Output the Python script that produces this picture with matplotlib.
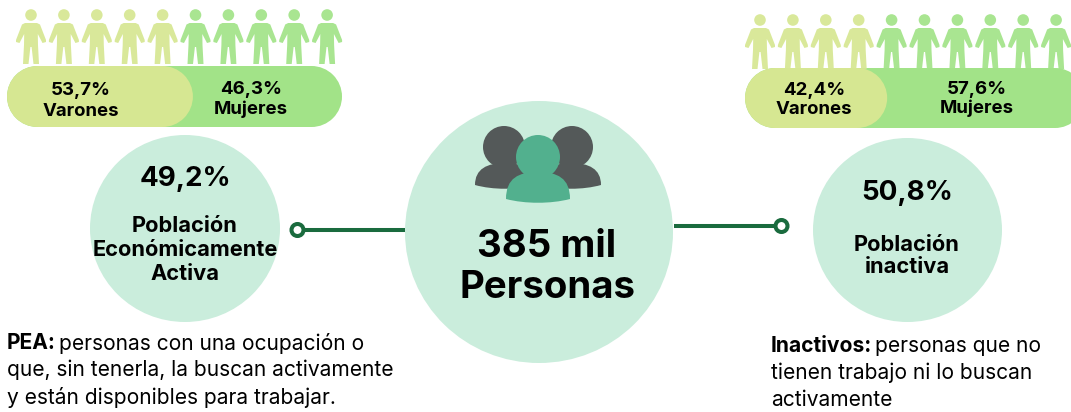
import numpy as np
import matplotlib
matplotlib.use('Agg')
import matplotlib.pyplot as plt
from matplotlib.patches import Circle, Ellipse, Rectangle, PathPatch, Polygon
from matplotlib.path import Path

plt.rcParams['font.family'] = ['Inter', 'DejaVu Sans']

# data
total_label = ['385 mil', 'Personas']
group_pct = [49.2, 50.8]
group_names = ['Población\nEconómicamente\nActiva', 'Población\ninactiva']
varones_pct = [53.7, 42.4]
mujeres_pct = [46.3, 57.6]
sex_names = ['Varones', 'Mujeres']

LIGHT = '#d6e792'
GREEN = '#a2e388'
MINT = '#caeddc'
DARK_LINE = '#1a6b3e'
TEAL = '#52b08e'
GREY = '#545959'


def pct(v):
    return f'{v:.1f}%'.replace('.', ',')


def person(ax, cx, top, color):
    ax.add_patch(Circle((cx, top + 6), 5.8, fc=color, ec='none', alpha=0.92, zorder=3))
    pts = np.array([(-6, 14), (6, 14), (9, 15.5), (15, 31), (15, 33), (11.5, 34), (6.8, 25), (7, 36),
                    (8, 55), (2.5, 55), (0.6, 38), (-0.6, 38), (-2.5, 55), (-8, 55), (-7, 36),
                    (-6.8, 25), (-11.5, 34), (-15, 33), (-15, 31), (-9, 15.5)], dtype=float)
    pts[:, 0] += cx
    pts[:, 1] += top
    ax.add_patch(Polygon(pts, closed=True, fc=color, ec='none', alpha=0.92, zorder=3))


def dome(ax, x0, x1, y_top, y_bot, color, zorder):
    w = x1 - x0
    verts = [(x0, y_bot - 4), (x0, y_top + 6), (x0 + 0.2 * w, y_top), (x0 + 0.5 * w, y_top),
             (x0 + 0.8 * w, y_top), (x1, y_top + 6), (x1, y_bot - 4),
             (x0 + 0.7 * w, y_bot + 1), (x0 + 0.3 * w, y_bot + 1), (x0, y_bot - 4), (x0, y_bot - 4)]
    codes = [Path.MOVETO, Path.CURVE4, Path.CURVE4, Path.CURVE4, Path.CURVE4, Path.CURVE4, Path.CURVE4,
             Path.CURVE4, Path.CURVE4, Path.CURVE4, Path.CLOSEPOLY]
    ax.add_patch(PathPatch(Path(verts, codes), fc=color, ec='none', zorder=zorder))


def pill(ax, x0, x1, y0, y1, color):
    r = (y1 - y0) / 2
    ax.add_patch(Rectangle((x0 + r, y0), x1 - x0 - 2 * r, y1 - y0, fc=color, ec='none', zorder=2))
    ax.add_patch(Circle((x0 + r, y0 + r), r, fc=color, ec='none', zorder=2))
    ax.add_patch(Circle((x1 - r, y0 + r), r, fc=color, ec='none', zorder=2))


def sex_block(ax, x0, x1, y0, y1, first_cx, icon_top, share, offset):
    pill(ax, x0, x1, y0, y1, GREEN)
    pill(ax, x0, x0 + (x1 - x0) * share / 100 + offset, y0, y1, LIGHT)
    n_light = int(round(share / 10))
    for i in range(10):
        person(ax, first_cx + 32.9 * i, icon_top, LIGHT if i < n_light else GREEN)


fig = plt.figure(figsize=(10.71, 4.12), dpi=100)
ax = fig.add_axes([0, 0, 1, 1])
ax.set_xlim(0, 1071)
ax.set_ylim(412, 0)
ax.axis('off')

# pills + pictograms
sex_block(ax, 7, 342, 66, 127, 31, 9, varones_pct[0], 6)
sex_block(ax, 745, 1085, 68, 128, 760, 14, varones_pct[1], -2)

bold = dict(ha='center', va='center', fontweight='bold', zorder=5)
for i, (cx_v, cx_m, ys) in enumerate([(81, 251, (90, 111, 89, 109)), (814, 977, (90, 109, 89, 108))]):
    ax.text(cx_v, ys[0], pct(varones_pct[i]), fontsize=13.4, **bold)
    ax.text(cx_v, ys[1], sex_names[0], fontsize=13.4, **bold)
    ax.text(cx_m, ys[2], pct(mujeres_pct[i]), fontsize=13.4, **bold)
    ax.text(cx_m, ys[3], sex_names[1], fontsize=13.4, **bold)

# circles (slightly squashed in the original)
ax.add_patch(Ellipse((185, 228.5), 190, 187, fc=MINT, ec='none'))
ax.add_patch(Ellipse((907.5, 230), 189, 184, fc=MINT, ec='none'))
ax.add_patch(Ellipse((539, 232), 268, 262, fc=MINT, ec='none'))

# connectors
ax.plot([303, 405], [230, 230], color=DARK_LINE, lw=2.9, solid_capstyle='butt', zorder=1)
ax.plot([674, 775], [226, 226], color=DARK_LINE, lw=2.9, solid_capstyle='butt', zorder=1)
ax.add_patch(Circle((297.5, 230), 6, fc='white', ec=DARK_LINE, lw=2.9))
ax.add_patch(Circle((781.5, 226), 6, fc='white', ec=DARK_LINE, lw=2.9))

# people icon
for cx, x0, x1 in [(504, 475, 535), (572, 541, 601)]:
    ax.add_patch(Circle((cx, 147), 21, fc=GREY, ec='none', zorder=3))
    dome(ax, x0, x1, 163, 189, GREY, 3)
ax.add_patch(Circle((538, 157), 22, fc=TEAL, ec='none', zorder=5))
dome(ax, 506, 570, 172, 203, TEAL, 5)

# central text
ax.text(547, 247, total_label[0], fontsize=27.6, **bold)
ax.text(547, 288, total_label[1], fontsize=27.6, **bold)

# group text
ax.text(185, 179, pct(group_pct[0]), fontsize=20, **bold)
ax.text(185, 250, group_names[0], fontsize=15.7, linespacing=1.25, **bold)
ax.text(907, 193, pct(group_pct[1]), fontsize=20, **bold)
ax.text(907, 256, group_names[1], fontsize=15.7, linespacing=1.1, **bold)

# notes
note_l = ['personas con una ocupación o', 'que, sin tenerla, la buscan activamente', 'y están disponibles para trabajar.']
ax.text(7, 343, 'PEA:', fontsize=15.1, fontweight='bold', va='center')
ax.text(59, 343, note_l[0], fontsize=15.1, va='center')
ax.text(7, 370, note_l[1], fontsize=15.1, va='center')
ax.text(7, 398, note_l[2], fontsize=15.1, va='center')

ax.text(771, 346, 'Inactivos:', fontsize=15.1, fontweight='bold', va='center')
ax.text(875, 346, 'personas que no', fontsize=15.1, va='center')
ax.text(771, 373, 'tienen trabajo ni lo buscan', fontsize=15.1, va='center')
ax.text(771, 400, 'activamente', fontsize=15.1, va='center')

fig.savefig('out.png', dpi=100)
